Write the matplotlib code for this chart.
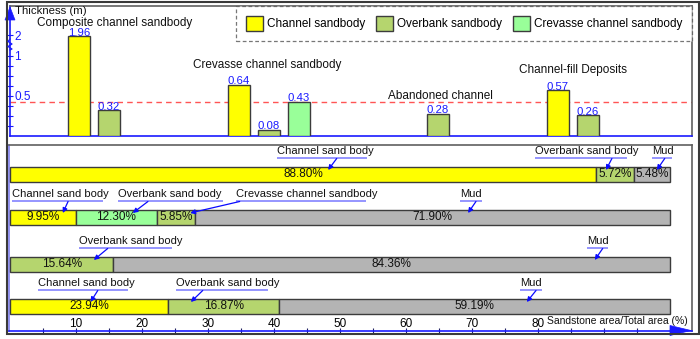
import matplotlib
matplotlib.use('Agg')
import matplotlib.pyplot as plt
import matplotlib.transforms as mtransforms
from matplotlib.patches import Patch, Polygon, Rectangle
import numpy as np

plt.rcParams['font.family'] = ['Liberation Sans', 'DejaVu Sans']

# ---------------- data: sandbody thickness (m) ----------------
groups = ["Composite channel sandbody", "Crevasse channel sandbody",
          "Abandoned channel", "Channel-fill Deposits"]
channel_thk = [1.96, 0.64, None, 0.57]
overbank_thk = [0.32, 0.08, 0.28, 0.26]
crevasse_thk = [None, 0.43, None, None]
ref_thickness = 0.43
ytick_vals = [0.5, 1, 2]
ytick_labels = ["0.5", "1", "2"]
y_title = "Thickness (m)"
legend_labels = ["Channel sandbody", "Overbank sandbody", "Crevasse channel sandbody"]

# ---------------- data: sandstone area / total area (%) ----------------
row1_values = [88.80, 5.72, 5.48]
row1_kinds = ["channel", "overbank", "mud"]
row1_names = ["Channel sand body", "Overbank sand body", "Mud"]
row2_values = [9.95, 12.30, 5.85, 71.90]
row2_kinds = ["channel", "crevasse", "overbank", "mud"]
row2_names = ["Channel sand body", "Overbank sand body", "Crevasse channel sandbody", "Mud"]
row3_values = [15.64, 84.36]
row3_kinds = ["overbank", "mud"]
row3_names = ["Overbank sand body", "Mud"]
row4_values = [23.94, 16.87, 59.19]
row4_kinds = ["channel", "overbank", "mud"]
row4_names = ["Channel sand body", "Overbank sand body", "Mud"]
xtick_vals = list(range(5, 101, 5))
xtick_labels = [str(t) if (t % 10 == 0 and t <= 80) else "" for t in xtick_vals]
x_title = "Sandstone area/Total area (%)"

# ---------------- style / layout ----------------
colors = {"channel": "#FFFF00", "overbank": "#B5D56E", "crevasse": "#99FF99", "mud": "#B4B4B4"}
BLUE = "#1a1aff"
EDGE = "#3c3c3c"
FS = 8.5
W, H = 700, 339

fig = plt.figure(figsize=(W / 100, H / 100), dpi=100)
pix = mtransforms.Affine2D().scale(1 / W, -1 / H).translate(0, 1) + fig.transFigure


def add_axes_px(l, t, r, b):
    return fig.add_axes([l / W, (H - b) / H, (r - l) / W, (b - t) / H])


# ================= top panel =================
axt = add_axes_px(10, 6, 692, 136)
K = 0.26


def fwd(v):
    v = np.asarray(v, dtype=float)
    return np.where(v <= 1, v, 1 + (v - 1) * K)


def inv(u):
    u = np.asarray(u, dtype=float)
    return np.where(u <= 1, u, 1 + (u - 1) / K)


axt.set_yscale('function', functions=(fwd, inv))
axt.set_xlim(0, 682)
axt.set_ylim(0, float(inv(130 / 80)))

group_centers = [84, 259, 427.5, 563]
slot = 30
bar_w = 22
series = [("channel", channel_thk), ("overbank", overbank_thk), ("crevasse", crevasse_thk)]
for gi, gc in enumerate(group_centers):
    present = [(k, vals[gi]) for k, vals in series if vals[gi] is not None]
    n = len(present)
    for j, (k, v) in enumerate(present):
        x = gc + (j - (n - 1) / 2) * slot
        axt.bar(x, v, width=bar_w, color=colors[k], edgecolor=EDGE, linewidth=1, zorder=3)
        axt.annotate(f"{v:.2f}", (x, v), xytext=(0, -1.2), textcoords='offset points',
                     ha='center', va='bottom', color=BLUE, fontsize=8.2, zorder=4)

group_label_x = [105, 257, 430, 563]
group_label_y = [0.866, 0.546, 0.31, 0.508]
bt = mtransforms.blended_transform_factory(axt.transData, axt.transAxes)
for name, gx, gy in zip(groups, group_label_x, group_label_y):
    axt.text(gx, gy, name, transform=bt, ha='center', va='center', fontsize=FS, color='#111111', zorder=5)

axt.axhline(ref_thickness, color='#ff5555', ls=(0, (4, 3)), lw=1, zorder=2)

axt.set_xticks([])
axt.set_yticks(ytick_vals)
axt.set_yticklabels(ytick_labels)
axt.set_yticks([0.125, 0.25, 0.375, 0.625, 0.75, 0.875], minor=True)
axt.tick_params(axis='y', which='both', direction='inout', color=BLUE, labelcolor=BLUE,
                labelsize=FS, length=4, width=0.8, pad=-5)
for lab in axt.get_yticklabels():
    lab.set_horizontalalignment('left')
for side in ['top', 'right']:
    axt.spines[side].set_color('#606060')
    axt.spines[side].set_linewidth(1.2)
for side in ['left', 'bottom']:
    axt.spines[side].set_color(BLUE)
    axt.spines[side].set_linewidth(1.2)

handles = [Patch(facecolor=colors[k], edgecolor=EDGE, linewidth=1) for k in ["channel", "overbank", "crevasse"]]
leg = axt.legend(handles, legend_labels, ncol=3, loc='upper right', bbox_to_anchor=(1, 1),
                 borderaxespad=0.0, fontsize=FS, frameon=True, fancybox=False,
                 handlelength=1.45, handleheight=1.55, handletextpad=0.3, columnspacing=0.95,
                 borderpad=0.85)
fr = leg.get_frame()
fr.set_linestyle((0, (3, 2)))
fr.set_edgecolor('#555555')
fr.set_linewidth(0.9)
leg.set_zorder(6)

fig.text(15, 11.5, y_title, transform=pix, ha='left', va='center', fontsize=8.2, color='#111111')

# ================= bottom panel =================
axb = add_axes_px(9, 145, 692, 331)
axb.set_xlim((9 - 10) / 6.6, (692 - 10) / 6.6)
axb.set_ylim(331, 145)

row_y = [174.5, 217.5, 264.5, 306.5]
row_h = 15
rows = [(row1_values, row1_kinds), (row2_values, row2_kinds),
        (row3_values, row3_kinds), (row4_values, row4_kinds)]
for (vals, kinds), yc in zip(rows, row_y):
    left = 0.0
    for v, k in zip(vals, kinds):
        axb.barh(yc, v, left=left, height=row_h, color=colors[k], edgecolor=EDGE, linewidth=1, zorder=3)
        axb.text(left + v / 2, yc, f"{v:.2f}%", ha='center', va='center', fontsize=FS,
                 color='#111111', zorder=4)
        left += v

# annotation layout: (row, label, text/underline start, underline end, arrow tail x, arrow head x)
ann_layout = [
    (0, row1_names[0], 40.5, 54.1, 49.5, 48.2),
    (0, row1_names[1], 79.5, 93.5, 91.2, 90.3),
    (0, row1_names[2], 97.3, 100.3, 99.2, 98.0),
    (1, row2_names[0], 0.3, 14.1, 8.8, 8.0),
    (1, row2_names[1], 16.4, 32.3, 20.9, 18.6),
    (1, row2_names[2], 34.2, 53.9, 34.8, 27.3),
    (1, row2_names[3], 68.2, 71.5, 70.6, 69.4),
    (2, row3_names[0], 10.5, 24.5, 14.8, 12.7),
    (2, row3_names[1], 87.4, 90.6, 89.8, 88.6),
    (3, row4_names[0], 4.2, 17.9, 13.3, 12.2),
    (3, row4_names[1], 25.2, 39.1, 29.2, 27.4),
    (3, row4_names[2], 77.3, 80.6, 79.7, 78.3),
]
for r, name, x0, x1, xt, xh in ann_layout:
    top = row_y[r] - row_h / 2
    axb.text(x0, top - 15.5, name, ha='left', va='center', fontsize=8, color='#111111', zorder=5)
    axb.plot([x0, x1], [top - 8.5, top - 8.5], color='#8c8cff', lw=1.3, zorder=5, solid_capstyle='butt')
    axb.annotate('', xy=(xh, top + 3), xytext=(xt, top - 8.5),
                 arrowprops=dict(arrowstyle='-|>', color='#0a0aff', lw=0.9, mutation_scale=7,
                                 shrinkA=0, shrinkB=0), zorder=6)

axb.set_yticks([])
axb.set_xticks(xtick_vals)
axb.set_xticklabels(xtick_labels)
axb.tick_params(axis='x', direction='inout', length=4, width=0.8, color='#202060',
                labelsize=FS, pad=-2.5)
for lab in axb.get_xticklabels():
    lab.set_verticalalignment('bottom')
for side in ['top', 'right']:
    axb.spines[side].set_color('#606060')
    axb.spines[side].set_linewidth(1.2)
axb.spines['left'].set_color('#8080f0')
axb.spines['left'].set_linewidth(1.2)
axb.spines['bottom'].set_color(BLUE)
axb.spines['bottom'].set_linewidth(1.2)

fig.text(688, 320.5, x_title, transform=pix, ha='right', va='center', fontsize=7.5,
         family=['Liberation Sans Narrow', 'Liberation Sans', 'DejaVu Sans'], color='#111111')

# ================= decorations =================
fig.add_artist(Polygon([(10, 7), (5, 20), (15, 20)], closed=True, transform=pix,
                       facecolor=BLUE, edgecolor=BLUE, lw=0.5))
fig.add_artist(Polygon([(691, 330.5), (670, 325.5), (670, 335.5)], closed=True, transform=pix,
                       facecolor=BLUE, edgecolor=BLUE, lw=0.5))
zz = np.array([(10, 39), (8, 41.5), (12, 44), (8, 46.5), (12, 49), (10, 50)])
fig.add_artist(plt.Line2D(zz[:, 0], zz[:, 1], transform=pix, color=BLUE, lw=0.9))
fig.add_artist(Rectangle((7, 1.5), 692, 332.5, transform=pix, fill=False,
                         edgecolor='#3a3a3a', lw=1.5))

fig.savefig('out.png', dpi=100)
